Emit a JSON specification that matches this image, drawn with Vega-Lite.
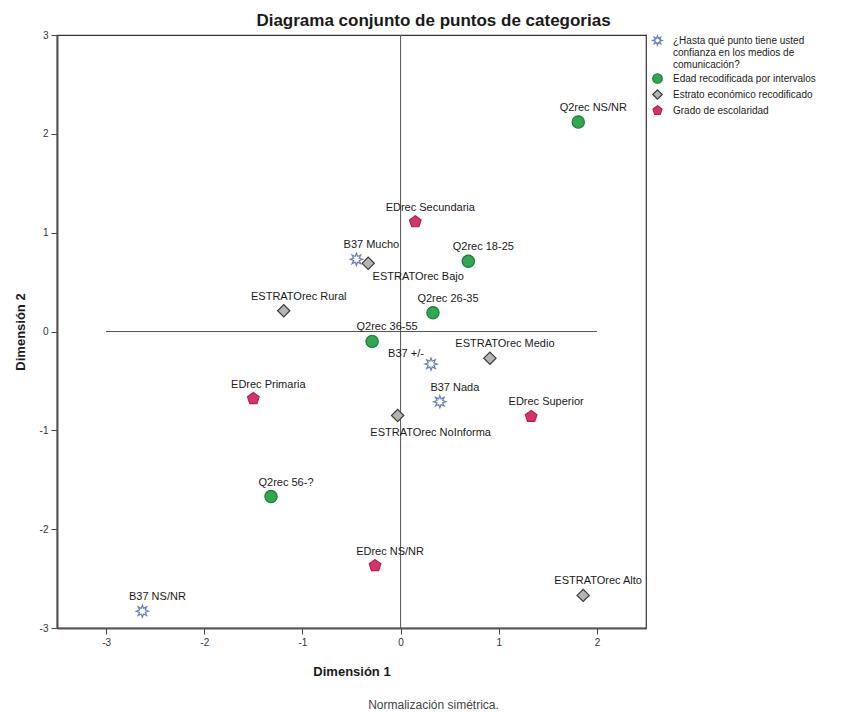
{
  "$schema": "https://vega.github.io/schema/vega-lite/v6.json",
  "width": 589,
  "height": 593,
  "autosize": {"type": "none"},
  "padding": {"left": 57, "top": 35, "right": 201, "bottom": 87},
  "background": "white",
  "title": {
    "text": "Diagrama conjunto de puntos de categorias",
    "fontSize": 17,
    "fontWeight": "bold",
    "font": "Liberation Sans",
    "anchor": "middle",
    "dx": 82,
    "dy": 21,
    "offset": 8,
    "baseline": "alphabetic",
    "color": "#1a1a1a"
  },
  "datasets": {
    "pts": [
      {"etiqueta": "B37 Mucho", "grupo": "¿Hasta qué punto tiene usted confianza en los medios de comunicación?", "dim1": -0.45, "dim2": 0.73},
      {"etiqueta": "B37 +/-", "grupo": "¿Hasta qué punto tiene usted confianza en los medios de comunicación?", "dim1": 0.31, "dim2": -0.33},
      {"etiqueta": "B37 Nada", "grupo": "¿Hasta qué punto tiene usted confianza en los medios de comunicación?", "dim1": 0.40, "dim2": -0.71},
      {"etiqueta": "B37 NS/NR", "grupo": "¿Hasta qué punto tiene usted confianza en los medios de comunicación?", "dim1": -2.63, "dim2": -2.83},
      {"etiqueta": "Q2rec 18-25", "grupo": "Edad recodificada por intervalos", "dim1": 0.69, "dim2": 0.71},
      {"etiqueta": "Q2rec 26-35", "grupo": "Edad recodificada por intervalos", "dim1": 0.33, "dim2": 0.19},
      {"etiqueta": "Q2rec 36-55", "grupo": "Edad recodificada por intervalos", "dim1": -0.29, "dim2": -0.10},
      {"etiqueta": "Q2rec 56-?", "grupo": "Edad recodificada por intervalos", "dim1": -1.32, "dim2": -1.67},
      {"etiqueta": "Q2rec NS/NR", "grupo": "Edad recodificada por intervalos", "dim1": 1.81, "dim2": 2.12},
      {"etiqueta": "ESTRATOrec Rural", "grupo": "Estrato económico recodificado", "dim1": -1.19, "dim2": 0.21},
      {"etiqueta": "ESTRATOrec Bajo", "grupo": "Estrato económico recodificado", "dim1": -0.33, "dim2": 0.69},
      {"etiqueta": "ESTRATOrec Medio", "grupo": "Estrato económico recodificado", "dim1": 0.91, "dim2": -0.27},
      {"etiqueta": "ESTRATOrec Alto", "grupo": "Estrato económico recodificado", "dim1": 1.86, "dim2": -2.67},
      {"etiqueta": "ESTRATOrec NoInforma", "grupo": "Estrato económico recodificado", "dim1": -0.03, "dim2": -0.85},
      {"etiqueta": "EDrec Primaria", "grupo": "Grado de escolaridad", "dim1": -1.50, "dim2": -0.68},
      {"etiqueta": "EDrec Secundaria", "grupo": "Grado de escolaridad", "dim1": 0.15, "dim2": 1.11},
      {"etiqueta": "EDrec Superior", "grupo": "Grado de escolaridad", "dim1": 1.33, "dim2": -0.86},
      {"etiqueta": "EDrec NS/NR", "grupo": "Grado de escolaridad", "dim1": -0.26, "dim2": -2.37}
    ],
    "refs": [
      {"dim1": -3, "dim1_fin": 2, "dim2": 0, "dim2_fin": 0},
      {"dim1": 0, "dim1_fin": 0, "dim2": -3, "dim2_fin": 3}
    ]
  },
  "layer": [
    {
      "data": {"name": "refs"},
      "mark": {"type": "rule", "color": "#555555", "strokeWidth": 1},
      "encoding": {
        "x": {
          "field": "dim1", "type": "quantitative",
          "scale": {"domain": [-3.5, 2.5], "nice": false, "zero": false},
          "axis": {
            "title": "Dimensión 1",
            "values": [-3, -2, -1, 0, 1, 2],
            "labelExpr": "'' + datum.value",
            "titleBaseline": "alphabetic",
            "titleY": 47
          }
        },
        "x2": {"field": "dim1_fin"},
        "y": {
          "field": "dim2", "type": "quantitative",
          "scale": {"domain": [-3, 3], "nice": false, "zero": false},
          "axis": {
            "title": "Dimensión 2",
            "values": [-3, -2, -1, 0, 1, 2, 3],
            "labelExpr": "'' + datum.value",
            "titleBaseline": "alphabetic",
            "titleX": -33,
            "titleY": 296.5
          }
        },
        "y2": {"field": "dim2_fin"}
      }
    },
    {
      "data": {"name": "pts"},
      "mark": {"type": "point", "filled": true, "opacity": 1, "size": 150, "strokeWidth": 1.2},
      "encoding": {
        "x": {
          "field": "dim1", "type": "quantitative",
          "scale": {"domain": [-3.5, 2.5], "nice": false, "zero": false},
          "axis": {
            "orient": "bottom",
            "title": "Normalización simétrica.",
            "labels": false,
            "ticks": false,
            "domain": false,
            "grid": false,
            "titleFontWeight": "normal",
            "titleFontSize": 12,
            "titleColor": "#444444",
            "titleBaseline": "alphabetic",
            "titleX": 376,
            "titleY": 80
          }
        },
        "y": {
          "field": "dim2", "type": "quantitative",
          "scale": {"domain": [-3, 3], "nice": false, "zero": false}
        },
        "shape": {
          "field": "grupo", "type": "nominal",
          "scale": {
            "domain": ["¿Hasta qué punto tiene usted confianza en los medios de comunicación?", "Edad recodificada por intervalos", "Estrato económico recodificado", "Grado de escolaridad"],
            "range": [
              "M1,0L0.462,0.191L0.707,0.707L0.191,0.462L0,1L-0.191,0.462L-0.707,0.707L-0.462,0.191L-1,0L-0.462,-0.191L-0.707,-0.707L-0.191,-0.462L0,-1L0.191,-0.462L0.707,-0.707L0.462,-0.191Z",
              "circle",
              "diamond",
              "M0,-1L0.951,-0.309L0.588,0.809L-0.588,0.809L-0.951,-0.309Z"
            ]
          },
          "legend": {
            "title": null,
            "labelExpr": "indexof(datum.label, '¿') == 0 ? ['¿Hasta qué punto tiene usted', 'confianza en los medios de', 'comunicación?'] : datum.label"
          }
        },
        "fill": {
          "field": "grupo", "type": "nominal",
          "scale": {
            "domain": ["¿Hasta qué punto tiene usted confianza en los medios de comunicación?", "Edad recodificada por intervalos", "Estrato económico recodificado", "Grado de escolaridad"],
            "range": ["#ffffff", "#2fa84f", "#b4b4b4", "#d6336c"]
          }
        },
        "stroke": {
          "field": "grupo", "type": "nominal",
          "scale": {
            "domain": ["¿Hasta qué punto tiene usted confianza en los medios de comunicación?", "Edad recodificada por intervalos", "Estrato económico recodificado", "Grado de escolaridad"],
            "range": ["#6f7fb5", "#1d7a36", "#3a3a3a", "#b5204f"]
          }
        }
      }
    },
    {
      "data": {"name": "pts"},
      "transform": [{"filter": {"not": {"field": "etiqueta", "oneOf": ["B37 +/-", "ESTRATOrec Bajo", "ESTRATOrec NoInforma"]}}}],
      "mark": {"type": "text", "align": "center", "baseline": "alphabetic", "dx": 15, "dy": -11, "fontSize": 11, "font": "Liberation Sans", "color": "#1a1a1a"},
      "encoding": {
        "x": {"field": "dim1", "type": "quantitative", "axis": null},
        "y": {"field": "dim2", "type": "quantitative"},
        "text": {"field": "etiqueta"}
      }
    },
    {
      "data": {"name": "pts"},
      "transform": [{"filter": {"field": "etiqueta", "equal": "B37 +/-"}}],
      "mark": {"type": "text", "align": "center", "baseline": "alphabetic", "dx": -25, "dy": -7, "fontSize": 11, "font": "Liberation Sans", "color": "#1a1a1a"},
      "encoding": {
        "x": {"field": "dim1", "type": "quantitative", "axis": null},
        "y": {"field": "dim2", "type": "quantitative"},
        "text": {"field": "etiqueta"}
      }
    },
    {
      "data": {"name": "pts"},
      "transform": [{"filter": {"field": "etiqueta", "equal": "ESTRATOrec Bajo"}}],
      "mark": {"type": "text", "align": "center", "baseline": "alphabetic", "dx": 50, "dy": 17, "fontSize": 11, "font": "Liberation Sans", "color": "#1a1a1a"},
      "encoding": {
        "x": {"field": "dim1", "type": "quantitative", "axis": null},
        "y": {"field": "dim2", "type": "quantitative"},
        "text": {"field": "etiqueta"}
      }
    },
    {
      "data": {"name": "pts"},
      "transform": [{"filter": {"field": "etiqueta", "equal": "ESTRATOrec NoInforma"}}],
      "mark": {"type": "text", "align": "center", "baseline": "alphabetic", "dx": 33, "dy": 20, "fontSize": 11, "font": "Liberation Sans", "color": "#1a1a1a"},
      "encoding": {
        "x": {"field": "dim1", "type": "quantitative", "axis": null},
        "y": {"field": "dim2", "type": "quantitative"},
        "text": {"field": "etiqueta"}
      }
    }
  ],
  "resolve": {"axis": {"x": "independent"}},
  "config": {
    "font": "Liberation Sans",
    "view": {"stroke": "#333333", "strokeWidth": 1.2},
    "axis": {
      "grid": false,
      "domainColor": "#555555",
      "domainWidth": 2,
      "tickColor": "#444444",
      "tickSize": 6,
      "labelFontSize": 10,
      "labelColor": "#333333",
      "labelPadding": 3,
      "labelFont": "Liberation Sans",
      "titleFont": "Liberation Sans",
      "titleFontSize": 13,
      "titleFontWeight": "bold",
      "titleColor": "#1a1a1a"
    },
    "legend": {
      "orient": "right",
      "offset": 6,
      "padding": 0,
      "symbolSize": 90,
      "symbolStrokeWidth": 1.2,
      "labelFontSize": 10,
      "labelFont": "Liberation Sans",
      "labelColor": "#222222",
      "labelLimit": 200,
      "labelOffset": 10,
      "rowPadding": 1,
      "lineHeight": 10
    }
  }
}
